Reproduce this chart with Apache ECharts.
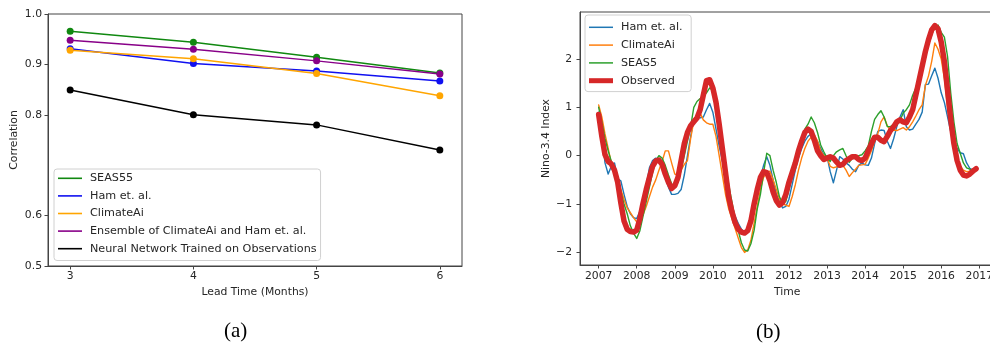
<!DOCTYPE html>
<html>
<head>
<meta charset="utf-8">
<script src="https://cdn.jsdelivr.net/npm/echarts@6/dist/echarts.min.js"></script>
<style>
  html, body { margin: 0; padding: 0; background: #fff; }
  #chart { width: 990px; height: 346px; }
</style>
</head>
<body>
<div id="chart"></div>
<script>
// ---- panel (a): correlation vs lead time ----
var leadMonths = [3, 4, 5, 6];
var corrSeas55 = [0.966, 0.944, 0.914, 0.883];
var corrHam = [0.931, 0.902, 0.887, 0.867];
var corrClimateAi = [0.928, 0.911, 0.882, 0.838];
var corrEnsemble = [0.948, 0.930, 0.907, 0.881];
var corrNeuralNet = [0.849, 0.800, 0.780, 0.730];
var corrTicks = [0.5, 0.6, 0.8, 0.9, 1.0];

// ---- panel (b): monthly Nino-3.4 index, Jan 2007 .. Dec 2016 ----
var startYear = 2007;
var yearTicks = [2007, 2008, 2009, 2010, 2011, 2012, 2013, 2014, 2015, 2016, 2017];
var ninoTicks = [-2, -1, 0, 1, 2];
var ninoHam = [
  0.90, 0.45, -0.15, -0.38, -0.22, -0.15, -0.48, -0.52, -0.80, -1.05, -1.20, -1.28,
  -1.30, -1.15, -0.95, -0.62, -0.25, -0.10, -0.05, -0.08, -0.22, -0.45, -0.65, -0.80,
  -0.80, -0.78, -0.70, -0.40, 0.00, 0.40, 0.75, 0.80, 0.78, 0.80, 0.95, 1.08,
  0.90, 0.55, 0.20, -0.10, -0.45, -0.75, -1.05, -1.25, -1.40, -1.52, -1.58, -1.50,
  -1.30, -1.00, -0.70, -0.45, -0.20, -0.02, -0.20, -0.50, -0.78, -0.95, -1.08, -1.05,
  -0.90, -0.60, -0.30, -0.05, 0.15, 0.30, 0.40, 0.45, 0.40, 0.30, 0.15, 0.02,
  -0.02, -0.33, -0.56, -0.30, -0.02, -0.07, -0.15, -0.20, -0.28, -0.33, -0.20, -0.15,
  -0.19, -0.20, -0.05, 0.25, 0.50, 0.53, 0.52, 0.30, 0.15, 0.35, 0.60, 0.80,
  0.95, 0.60, 0.53, 0.55, 0.65, 0.75, 0.90, 1.47, 1.48, 1.65, 1.81, 1.60,
  1.30, 1.10, 0.80, 0.50, 0.30, 0.15, 0.06, 0.04, -0.15, -0.26, -0.30, -0.30
];
var ninoClimateAi = [
  1.05, 0.80, 0.45, 0.15, -0.15, -0.35, -0.50, -0.70, -0.90, -1.08, -1.18, -1.28,
  -1.37, -1.30, -1.22, -1.05, -0.85, -0.65, -0.50, -0.30, -0.12, 0.10, 0.10, -0.15,
  -0.38, -0.40, -0.30, -0.18, -0.10, 0.35, 0.72, 0.82, 0.88, 0.74, 0.68, 0.65,
  0.65, 0.40, 0.00, -0.40, -0.80, -1.10, -1.30, -1.50, -1.70, -1.90, -2.00, -1.95,
  -1.75, -1.40, -1.05, -0.70, -0.45, -0.35, -0.32, -0.50, -0.70, -0.90, -1.00, -1.02,
  -1.05, -0.85, -0.60, -0.30, -0.05, 0.15, 0.30, 0.38, 0.43, 0.30, 0.10, 0.00,
  -0.05, -0.22, -0.25, -0.23, -0.22, -0.20, -0.30, -0.43, -0.35, -0.28, -0.20, -0.19,
  -0.18, -0.05, 0.10, 0.30, 0.45, 0.70, 0.80, 0.62, 0.52, 0.53, 0.52, 0.55,
  0.58, 0.53, 0.60, 0.70, 0.82, 0.95, 1.05, 1.45, 1.65, 1.95, 2.33, 2.20,
  2.00, 1.60, 1.00, 0.60, 0.30, -0.05, -0.22, -0.30, -0.33, -0.32, -0.27, -0.28
];
var ninoSeas5 = [
  1.00, 0.70, 0.35, 0.10, -0.12, -0.25, -0.43, -0.75, -1.00, -1.20, -1.45, -1.60,
  -1.71, -1.55, -1.25, -0.95, -0.65, -0.35, -0.10, 0.00, -0.05, -0.20, -0.40, -0.58,
  -0.65, -0.55, -0.30, 0.00, 0.30, 0.60, 1.00, 1.12, 1.18, 1.22, 1.30, 1.40,
  1.35, 1.05, 0.65, 0.20, -0.20, -0.60, -0.95, -1.30, -1.55, -1.80, -1.95, -1.97,
  -1.82, -1.55, -1.10, -0.80, -0.35, 0.05, 0.00, -0.30, -0.55, -0.85, -0.98, -0.95,
  -0.70, -0.45, -0.20, 0.05, 0.28, 0.55, 0.65, 0.80, 0.68, 0.48, 0.22, 0.08,
  -0.05, -0.12, 0.00, 0.08, 0.12, 0.15, 0.00, -0.14, -0.05, -0.02, 0.00, 0.02,
  0.10, 0.20, 0.50, 0.75, 0.85, 0.93, 0.80, 0.60, 0.60, 0.65, 0.70, 0.72,
  0.88, 0.95, 1.05, 1.25, 1.40, 1.60, 1.85, 2.05, 2.30, 2.50, 2.67, 2.70,
  2.55, 2.45, 2.05, 1.30, 0.70, 0.25, 0.05, -0.15, -0.25, -0.28, -0.30, -0.27
];
var ninoObserved = [
  0.85, 0.40, 0.02, -0.12, -0.17, -0.30, -0.55, -0.98, -1.35, -1.52, -1.57, -1.58,
  -1.54, -1.30, -0.98, -0.70, -0.45, -0.22, -0.11, -0.09, -0.18, -0.38, -0.55, -0.68,
  -0.62, -0.45, -0.10, 0.25, 0.48, 0.62, 0.70, 0.78, 0.95, 1.25, 1.55, 1.57,
  1.40, 1.10, 0.65, 0.15, -0.35, -0.85, -1.15, -1.38, -1.52, -1.58, -1.60, -1.55,
  -1.35, -1.00, -0.70, -0.45, -0.33, -0.35, -0.52, -0.75, -0.93, -1.02, -0.97, -0.80,
  -0.55, -0.35, -0.15, 0.10, 0.30, 0.48, 0.55, 0.50, 0.32, 0.10, 0.00, -0.08,
  -0.05, -0.02, -0.05, -0.13, -0.20, -0.18, -0.10, -0.06, -0.02, -0.02, -0.08, -0.10,
  -0.05, 0.10, 0.25, 0.38, 0.38, 0.32, 0.29, 0.40, 0.52, 0.60, 0.70, 0.74,
  0.70, 0.68, 0.80, 0.95, 1.25, 1.55, 1.85, 2.15, 2.40, 2.60, 2.69, 2.62,
  2.35, 1.95, 1.35, 0.75, 0.25, -0.10, -0.30, -0.40, -0.42, -0.38, -0.32, -0.27
];

var FONT = 'DejaVu Sans';
var TEXT = '#262626';
var AXIS = '#444';
var TICK_SIZE = 10.8;
var LEGEND_SIZE = 11.2;

function pairs(xs, ys) {
  return ys.map(function (v, i) { return [xs[i], v]; });
}
function monthly(vals) {
  return vals.map(function (v, i) { return [startYear + i / 12, v]; });
}
function minus(v) {
  return String(v).replace('-', '\u2212');
}
function lineIcon(h) {
  return 'path://M0,0L24,0L24,' + h + 'L0,' + h + 'Z';
}

var chart = echarts.init(document.getElementById('chart'), null, { renderer: 'canvas' });

var corrLine = function (name, vals, color) {
  return {
    name: name,
    type: 'line',
    xAxisIndex: 0,
    yAxisIndex: 0,
    data: pairs(leadMonths, vals),
    symbol: 'circle',
    symbolSize: 7,
    color: color,
    lineStyle: { width: 1.5, color: color },
    itemStyle: { color: color },
    silent: true
  };
};
var ninoLine = function (name, vals, color, width) {
  return {
    name: name,
    type: 'line',
    xAxisIndex: 1,
    yAxisIndex: 1,
    data: monthly(vals),
    symbol: 'none',
    color: color,
    lineStyle: { width: width, color: color, cap: 'round', join: 'round' },
    silent: true
  };
};

var option = {
  animation: false,
  textStyle: { fontFamily: FONT },
  grid: [
    { left: 48, top: 14, width: 414, bottom: 80, show: true, borderColor: AXIS, borderWidth: 1,
      outerBoundsMode: 'none' },
    { left: 580, top: 12, width: 414.5, bottom: 81, show: true, borderColor: AXIS, borderWidth: 1,
      outerBoundsMode: 'none' }
  ],
  xAxis: [
    {
      gridIndex: 0, type: 'value', min: 2.82, max: 6.18,
      name: 'Lead Time (Months)', nameLocation: 'middle', nameGap: 21,
      nameTextStyle: { color: TEXT, fontSize: TICK_SIZE, fontFamily: FONT },
      axisLine: { onZero: false, lineStyle: { color: AXIS } },
      axisTick: { length: 3.5, lineStyle: { color: AXIS }, customValues: leadMonths },
      axisLabel: { color: TEXT, fontSize: TICK_SIZE, margin: 5, customValues: leadMonths },
      splitLine: { show: false }
    },
    {
      gridIndex: 1, type: 'value', min: 2006.51, max: 2017.4,
      name: 'Time', nameLocation: 'middle', nameGap: 21,
      nameTextStyle: { color: TEXT, fontSize: TICK_SIZE, fontFamily: FONT },
      axisLine: { onZero: false, lineStyle: { color: AXIS } },
      axisTick: { length: 3.5, lineStyle: { color: AXIS }, customValues: yearTicks },
      axisLabel: { color: TEXT, fontSize: TICK_SIZE, margin: 6, customValues: yearTicks,
        formatter: function (v) { return String(Math.round(v)); } },
      splitLine: { show: false }
    }
  ],
  yAxis: [
    {
      gridIndex: 0, type: 'value', min: 0.5, max: 1.0,
      name: 'Correlation', nameLocation: 'middle', nameGap: 28,
      nameTextStyle: { color: TEXT, fontSize: TICK_SIZE, fontFamily: FONT },
      axisLine: { show: true, onZero: false, lineStyle: { color: AXIS } },
      axisTick: { show: true, length: 3.5, lineStyle: { color: AXIS }, customValues: corrTicks },
      axisLabel: { color: TEXT, fontSize: TICK_SIZE, margin: 6, customValues: corrTicks,
        formatter: function (v) { return v.toFixed(1); } },
      splitLine: { show: false }
    },
    {
      gridIndex: 1, type: 'value', min: -2.26, max: 2.97,
      name: 'Nino-3.4 Index', nameLocation: 'middle', nameGap: 28,
      nameTextStyle: { color: TEXT, fontSize: TICK_SIZE, fontFamily: FONT },
      axisLine: { show: true, onZero: false, lineStyle: { color: AXIS } },
      axisTick: { show: true, length: 3.5, lineStyle: { color: AXIS }, customValues: ninoTicks },
      axisLabel: { color: TEXT, fontSize: TICK_SIZE, margin: 8, customValues: ninoTicks, formatter: minus },
      splitLine: { show: false }
    }
  ],
  legend: [
    {
      left: 54, top: 169, orient: 'vertical',
      itemWidth: 24, itemHeight: 14, itemGap: 0,
      padding: [0.5, 4, 3, 4],
      symbolKeepAspect: true,
      backgroundColor: 'rgba(255,255,255,0.85)',
      borderColor: '#d0d0d0', borderWidth: 1, borderRadius: 3,
      textStyle: { color: TEXT, fontSize: LEGEND_SIZE, fontFamily: FONT, lineHeight: 17.6, padding: [0, 0, 0, 3] },
      data: [
        { name: 'SEAS55', icon: lineIcon(1.6) },
        { name: 'Ham et. al.', icon: lineIcon(1.6) },
        { name: 'ClimateAi', icon: lineIcon(1.6) },
        { name: 'Ensemble of ClimateAi and Ham et. al.', icon: lineIcon(1.6) },
        { name: 'Neural Network Trained on Observations', icon: lineIcon(1.6) }
      ]
    },
    {
      left: 585, top: 15, orient: 'vertical',
      itemWidth: 24, itemHeight: 14, itemGap: 0,
      padding: [3.4, 5, 2, 4],
      symbolKeepAspect: true,
      backgroundColor: 'rgba(255,255,255,0.85)',
      borderColor: '#d0d0d0', borderWidth: 1, borderRadius: 3,
      textStyle: { color: TEXT, fontSize: LEGEND_SIZE, fontFamily: FONT, lineHeight: 17.8, padding: [0, 0, 0, 3] },
      data: [
        { name: 'Ham et. al. ', icon: lineIcon(1.5) },
        { name: 'ClimateAi ', icon: lineIcon(1.5) },
        { name: 'SEAS5', icon: lineIcon(1.5) },
        { name: 'Observed', icon: lineIcon(5) }
      ]
    }
  ],
  graphic: [
    { type: 'text', left: 224, top: 321, style: { text: '(a)', font: '21px "Liberation Serif"', fill: '#000' } },
    { type: 'text', left: 756, top: 322, style: { text: '(b)', font: '21px "Liberation Serif"', fill: '#000' } }
  ],
  series: [
    corrLine('SEAS55', corrSeas55, '#108810'),
    corrLine('Ham et. al.', corrHam, '#1010f0'),
    corrLine('ClimateAi', corrClimateAi, '#ffa500'),
    corrLine('Ensemble of ClimateAi and Ham et. al.', corrEnsemble, '#880088'),
    corrLine('Neural Network Trained on Observations', corrNeuralNet, '#000000'),
    ninoLine('Ham et. al. ', ninoHam, '#1f77b4', 1.4),
    ninoLine('ClimateAi ', ninoClimateAi, '#ff7f0e', 1.4),
    ninoLine('SEAS5', ninoSeas5, '#2ca02c', 1.4),
    ninoLine('Observed', ninoObserved, '#d62728', 5.5)
  ]
};

chart.setOption(option);
</script>
</body>
</html>
